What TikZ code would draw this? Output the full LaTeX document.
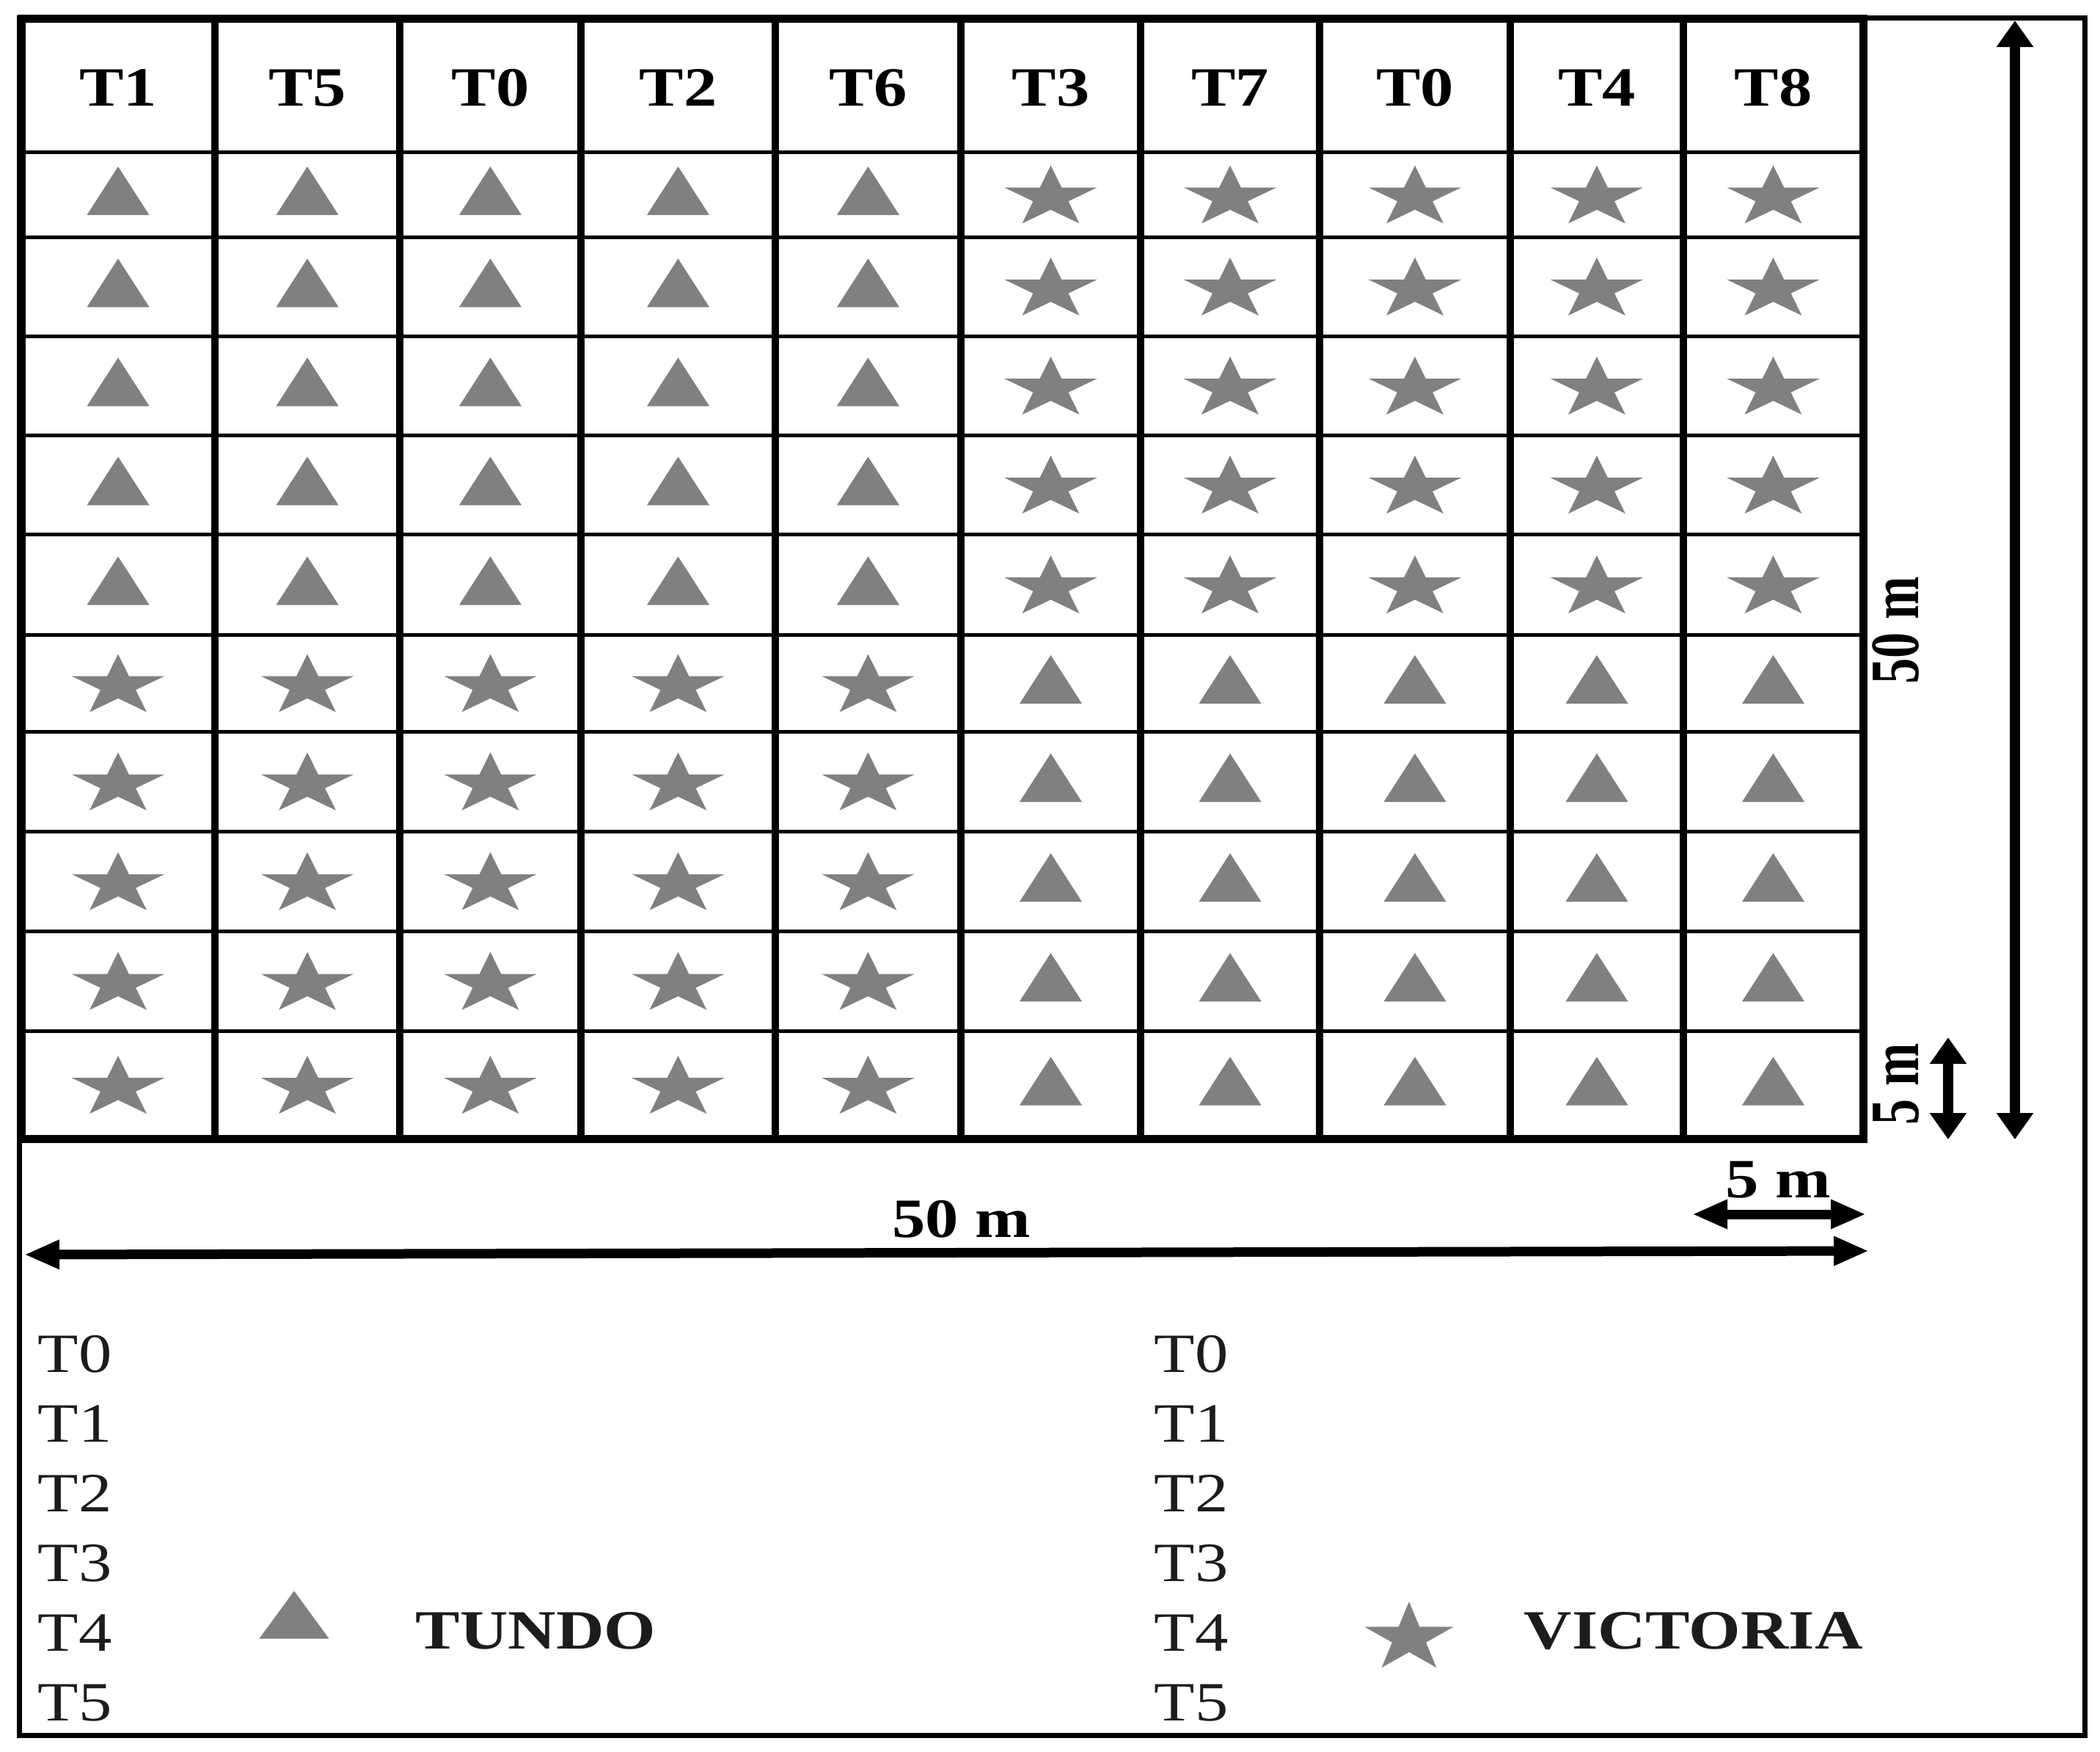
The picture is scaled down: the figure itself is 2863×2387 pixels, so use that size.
\documentclass[tikz,border=0pt]{standalone}
\usepackage{fontspec}
\setmainfont{Liberation Serif}
\usetikzlibrary{arrows.meta}
\definecolor{symgray}{HTML}{808080}
\definecolor{txtdark}{HTML}{1C1C1C}
\newcommand{\hstretch}[1]{\scalebox{1.2}[1]{#1}}
\newcommand{\vstretch}[1]{\scalebox{0.93}[1.25]{#1}}
\begin{document}
\begin{tikzpicture}[x=0.1mm,y=-0.1mm,
  hdr/.style={font=\fontsize{21.5}{26}\selectfont\bfseries, inner sep=0pt, anchor=base},
  lgd/.style={font=\fontsize{21.5}{26}\selectfont, inner sep=0pt, anchor=base west, text=txtdark},
  lgdb/.style={font=\fontsize{21.5}{26}\selectfont\bfseries, inner sep=0pt, anchor=base west, text=txtdark},
  dimlbl/.style={font=\fontsize{21.5}{26}\selectfont\bfseries, inner sep=0pt},
  harrow/.style={line width=1.3mm, {Triangle[length=4.8mm,width=3.7mm]}-{Triangle[length=4.8mm,width=3.7mm]}},
  varrow/.style={line width=1.4mm, {Triangle[length=3.6mm,width=4.8mm]}-{Triangle[length=3.6mm,width=4.8mm]}},
  trisym/.pic={\fill[symgray] (-42.5,33) -- (42.5,33) -- (0,-33) -- cycle;},
  starsym/.pic={\fill[symgray] (0,-39.5) -- (-14.88,-9.33) -- (-63,-9.32) -- (-24.07,9.32) -- (-38.94,39.5) -- (0,20.85) -- (38.94,39.5) -- (24.07,9.32) -- (63,-9.32) -- (14.88,-9.33) -- cycle;}
]
\useasboundingbox (0,0) rectangle (2863,2387);
% outer frame
\draw[line width=0.7mm] (26,24) rectangle (2842,2365);
% grid
\foreach \x in {293,545,792,1057,1310,1555,1799,2059,2295}
  \draw[line width=1mm] (\x,25) -- (\x,1552);
\foreach \y in {207,323,458,593,728,865,997,1133,1269,1405}
  \draw[line width=0.5mm] (29,\y) -- (2540,\y);
\draw[line width=1.1mm] (29,25.5) rectangle (2540,1552);
% headers
\foreach \cx/\lbl [count=\i] in {161/T1,419/T5,668.5/T0,924.5/T2,1183.5/T6,1432.5/T3,1677/T7,1929/T0,2177/T4,2417.5/T8}
  \node[hdr] (h\i) at (\cx,144) {\hstretch{\lbl}};
% symbols
\foreach \cx [count=\c] in {161,419,668.5,924.5,1183.5,1432.5,1677,1929,2177,2417.5}{
  \foreach \cy [count=\r] in {265,390.5,525.5,660.5,796.5,931,1065,1201,1337,1478.5}{
    \pgfmathtruncatemacro\kind{((\c<6)==(\r<6))}
    \ifnum\kind=1
      \pic at (\cx,\cy-5) {trisym};
    \else
      \pic at (\cx,\cy) {starsym};
    \fi
  }
}
% dimension arrows
\coordinate (hL) at (33,1710);
\coordinate (hR) at (2548,1705);
\draw[harrow] (hL) -- (hR);
\coordinate (sL) at (2307,1655);
\coordinate (sR) at (2544,1655);
\draw[harrow] (sL) -- (sR);
\coordinate (vT) at (2747,28);
\coordinate (vB) at (2747,1553);
\draw[varrow] (vT) -- (vB);
\coordinate (wT) at (2656,1414);
\coordinate (wB) at (2656,1553);
\draw[varrow] (wT) -- (wB);
% dimension labels
\node[dimlbl, anchor=base] (l50h) at (1311,1686) {\hstretch{50 m}};
\node[dimlbl, anchor=base] (l5h) at (2424,1632) {\hstretch{5 m}};
\node[dimlbl, rotate=90] (l50v) at (2585,859) {\vstretch{50 m}};
\node[dimlbl, rotate=90] (l5v) at (2585,1478) {\vstretch{5 m}};
% legend
\foreach \i in {0,...,5}{
  \node[lgd] (la\i) at (51,1870+95*\i) {\hstretch{T\i}};
  \node[lgd] (lb\i) at (1573,1870+95*\i) {\hstretch{T\i}};
}
\pic[xscale=1.12, yscale=0.985] at (401,2201) {trisym};
\node[lgdb] (tundo) at (566,2247) {\hstretch{TUNDO}};
\pic[xscale=0.96, yscale=1.14] at (1921,2228) {starsym};
\node[lgdb] (victoria) at (2077,2247) {\hstretch{VICTORIA}};
\end{tikzpicture}
\end{document}
